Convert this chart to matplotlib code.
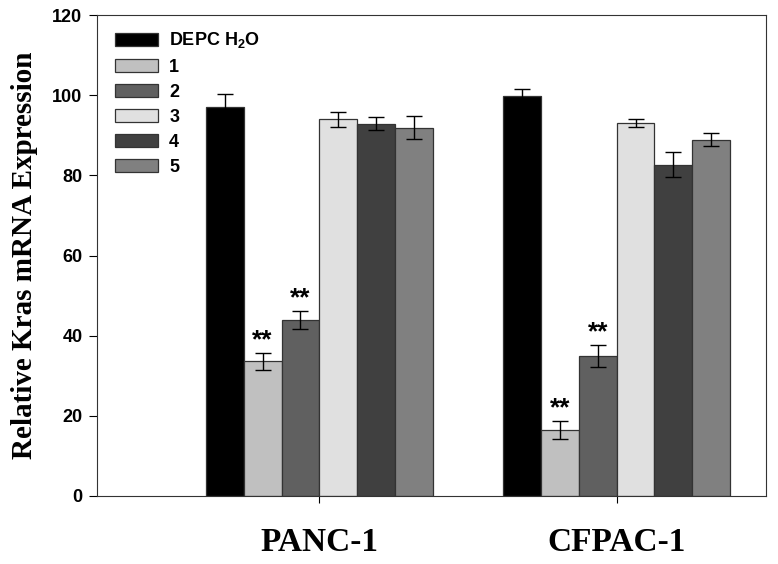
import matplotlib
matplotlib.use("Agg")
import matplotlib.pyplot as plt
import numpy as np

plt.rcParams["mathtext.fontset"] = "custom"
plt.rcParams["mathtext.rm"] = "Liberation Sans:bold"
plt.rcParams["mathtext.bf"] = "Liberation Sans:bold"
plt.rcParams["mathtext.it"] = "Liberation Sans:bold"

groups = ["PANC-1", "CFPAC-1"]
series = [r"DEPC H$_\mathrm{2}$O", "1", "2", "3", "4", "5"]
values = {
    series[0]: [97.0, 99.9],
    "1": [33.6, 16.5],
    "2": [43.9, 35.0],
    "3": [94.0, 93.1],
    "4": [92.9, 82.7],
    "5": [91.9, 88.9],
}
errors = {
    series[0]: [3.3, 1.6],
    "1": [2.2, 2.2],
    "2": [2.2, 2.7],
    "3": [1.9, 1.0],
    "4": [1.6, 3.0],
    "5": [2.8, 1.7],
}
significant = {"1": [True, True], "2": [True, True]}
colors = ["#000000", "#c0c0c0", "#606060", "#e0e0e0", "#404040", "#808080"]
yticks = [0, 20, 40, 60, 80, 100, 120]

fig = plt.figure(figsize=(7.78, 5.64), dpi=100)
ax = fig.add_axes([97/778, 68/564, 669/778, 481/564])

x = np.arange(len(groups))
w = 0.127
n = len(series)
for i, (s, c) in enumerate(zip(series, colors)):
    pos = x + (i - (n - 1) / 2) * w
    ax.bar(pos, values[s], w, color=c, edgecolor="#333333", linewidth=0.9,
           label=s, zorder=2)
    ax.errorbar(pos, values[s], yerr=errors[s], fmt="none", ecolor="black",
                elinewidth=1.0, capsize=5.5, capthick=1.0, zorder=3)
    if s in significant:
        for p, v, e, sig in zip(pos, values[s], errors[s], significant[s]):
            if sig:
                ax.annotate("**", (p, v + e), xytext=(0, 9),
                            textcoords="offset points", ha="center",
                            va="center", fontsize=19, fontweight="bold",
                            family="Liberation Sans")

ax.set_xlim(-0.7475, 1.502)
ax.set_ylim(0, 120)
ax.set_yticks(yticks)
ax.set_yticklabels([str(t) for t in yticks], fontsize=13, fontweight="bold",
                   family="Liberation Sans")
ax.set_xticks(x)
ax.set_xticklabels(groups, fontsize=24, fontweight="bold",
                   family="Liberation Serif")
ax.tick_params(axis="y", direction="out", length=6, width=0.8, pad=4.5)
ax.tick_params(axis="x", direction="out", length=5, width=0.8, pad=17)
for sp in ax.spines.values():
    sp.set_linewidth(0.8)
    sp.set_color("#333333")

ax.set_ylabel("Relative Kras mRNA Expression", fontsize=21, fontweight="bold",
              family="Liberation Serif", labelpad=10)

leg = ax.legend(loc="upper left", bbox_to_anchor=(0.027, 0.968),
                frameon=False, borderpad=0, borderaxespad=0,
                handlelength=2.4, handleheight=0.72, handletextpad=0.6,
                labelspacing=0.45,
                prop={"family": "Liberation Sans", "weight": "bold",
                      "size": 13})
for h in leg.legend_handles:
    h.set_edgecolor("#333333")
    h.set_linewidth(0.9)

fig.savefig("out.png", dpi=100)
